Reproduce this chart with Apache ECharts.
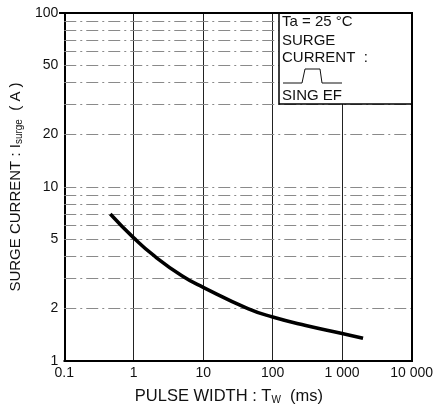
<!DOCTYPE html>
<html>
<head>
<meta charset="utf-8">
<script src="https://cdn.jsdelivr.net/npm/echarts@6/dist/echarts.min.js"></script>
<style>
  html, body { margin: 0; padding: 0; background: #fff; }
  #chart { width: 436px; height: 410px; }
</style>
</head>
<body>
<div id="chart"></div>
<script>
// surge current vs pulse width
const pulseWidth = [0.46, 1, 2, 5, 10, 44, 100, 300, 1000, 2000];
const surgeCurrent = [7.0, 5.1, 4.0, 3.08, 2.65, 2.0, 1.79, 1.6, 1.44, 1.35];

const yLabelValues = [1, 2, 5, 10, 20, 50, 100];
const yGridValues = [2, 3, 4, 5, 6, 7, 8, 9, 10, 20, 30, 40, 50, 60, 70, 80, 90];

const FONT = 'Liberation Sans';
const chart = echarts.init(document.getElementById('chart'), null, { renderer: 'canvas' });

const fmtX = (v) => {
    if (v >= 1000) return String(Math.round(v)).replace(/\B(?=(\d{3})+(?!\d))/g, ' ');
    return String(+v.toPrecision(3));
};

const richOf = (size) => ({
    t: { fontFamily: FONT, fontSize: size, color: '#111' },
    s: { fontFamily: FONT, fontSize: 10, color: '#111', verticalAlign: 'bottom', padding: [7, 0, 0, 0] }
});

chart.setOption({
    animation: false,
    grid: { left: 59, right: 24, top: 13, bottom: 48 },
    xAxis: {
        type: 'log',
        logBase: 10,
        min: 0.1,
        max: 10000,
        name: '{t|PULSE WIDTH : T}{s|W}{t|  (ms)}',
        nameLocation: 'middle',
        nameGap: 27,
        nameTextStyle: { rich: richOf(16.5), padding: [0, 18, 0, 0] },
        axisLine: { show: true, lineStyle: { color: '#000', width: 2 } },
        axisTick: { show: false },
        axisLabel: {
            fontFamily: FONT, fontSize: 14, color: '#111', margin: 5,
            formatter: fmtX
        },
        splitLine: { show: true, lineStyle: { color: '#222', width: 1 } },
        minorTick: { show: false }
    },
    yAxis: {
        type: 'log',
        logBase: 10,
        min: 1,
        max: 100,
        name: '{t|SURGE CURRENT : I}{s|surge}{t|  ( A )}',
        nameLocation: 'middle',
        nameGap: 37,
        nameTextStyle: { rich: richOf(15) },
        axisLine: { show: true, lineStyle: { color: '#000', width: 2 } },
        axisTick: { show: false },
        axisLabel: {
            fontFamily: FONT, fontSize: 14, color: '#111', margin: 6,
            customValues: yLabelValues
        },
        splitLine: { show: false }
    },
    series: [{
        type: 'line',
        data: pulseWidth.map((x, i) => [x, surgeCurrent[i]]),
        smooth: true,
        symbol: 'none',
        lineStyle: { color: '#000', width: 3.5 },
        z: 5,
        markLine: {
            silent: true,
            symbol: 'none',
            label: { show: false },
            lineStyle: { color: '#8a8a8a', width: 1, type: [12, 4, 2, 4] },
            data: yGridValues.map(v => ({ yAxis: v }))
        }
    }],
    graphic: [
        {
            type: 'rect',
            shape: { x: 279, y: 13, width: 133, height: 91 },
            style: { fill: '#fff', stroke: '#000', lineWidth: 1.5 },
            z: 10
        },
        // top and right frame
        {
            type: 'polyline',
            shape: { points: [[59, 13], [412, 13], [412, 362]] },
            style: { stroke: '#000', lineWidth: 2, fill: null },
            z: 11
        },
        {
            type: 'text', left: 282, top: 14, z: 12,
            style: { text: 'Ta = 25 °C', font: '15px "Liberation Sans"', fill: '#111' }
        },
        {
            type: 'text', left: 282, top: 33, z: 12,
            style: { text: 'SURGE', font: '15px "Liberation Sans"', fill: '#111' }
        },
        {
            type: 'text', left: 282, top: 50, z: 12,
            style: { text: 'CURRENT  :', font: '15px "Liberation Sans"', fill: '#111' }
        },
        {
            type: 'polyline', z: 12,
            shape: { points: [[283, 83], [302, 83], [305, 69], [320, 69], [322, 83], [342, 83]] },
            style: { stroke: '#111', lineWidth: 1, fill: null }
        },
        {
            type: 'text', left: 282, top: 88, z: 12,
            style: { text: 'SING EF', font: '15px "Liberation Sans"', fill: '#111' }
        }
    ]
});
</script>
</body>
</html>
